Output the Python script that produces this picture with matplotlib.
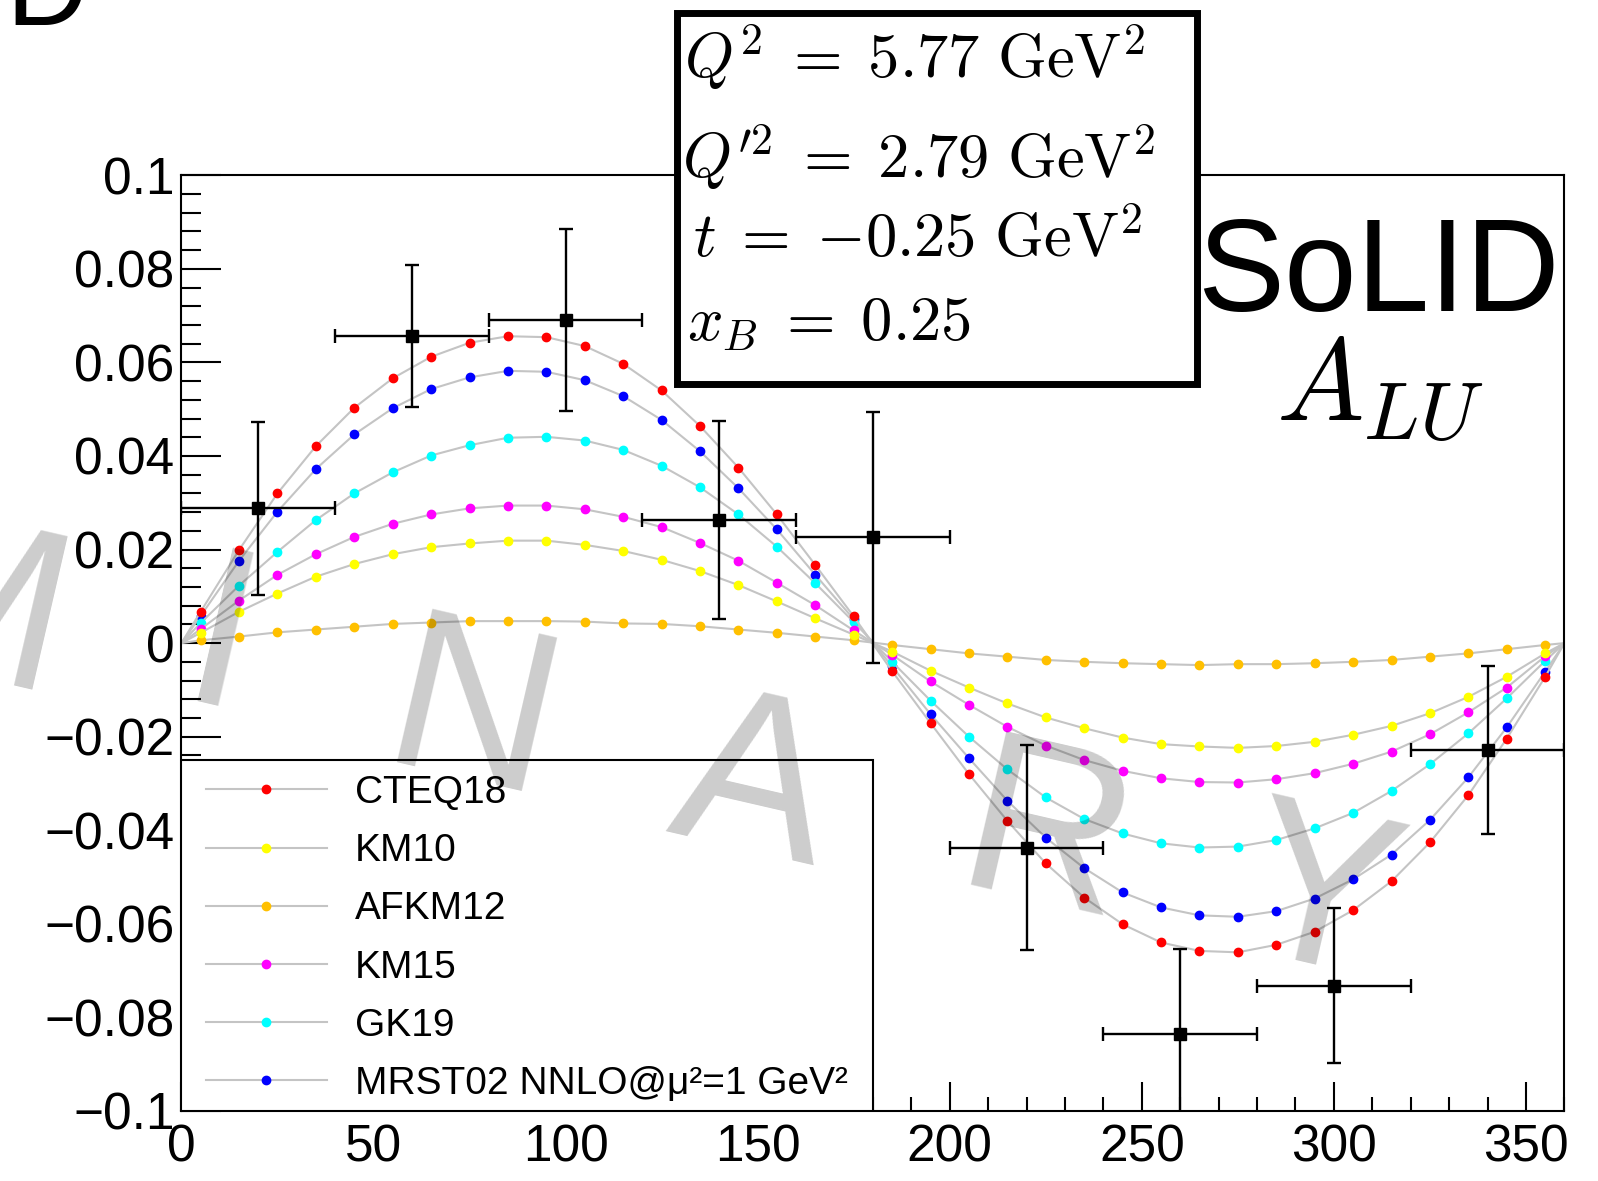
import matplotlib
matplotlib.use("Agg")
import matplotlib.pyplot as plt
from matplotlib.lines import Line2D
from matplotlib.patches import Rectangle
from matplotlib.ticker import MultipleLocator

plt.rcParams["font.family"] = ["Liberation Sans", "DejaVu Sans"]

# phi grid of the model curves (deg)
phi = [5, 15, 25, 35, 45, 55, 65, 75, 85, 95, 105, 115, 125, 135, 145, 155, 165, 175,
       185, 195, 205, 215, 225, 235, 245, 255, 265, 275, 285, 295, 305, 315, 325, 335, 345, 355]

cteq18 = [0.0067, 0.0199, 0.0320, 0.0421, 0.0503, 0.0566, 0.0612, 0.0642, 0.0656, 0.0654,
          0.0635, 0.0597, 0.0540, 0.0464, 0.0375, 0.0275, 0.0167, 0.0057, -0.0060, -0.0171,
          -0.0280, -0.0380, -0.0471, -0.0544, -0.0601, -0.0640, -0.0658, -0.0661, -0.0645,
          -0.0617, -0.0571, -0.0509, -0.0426, -0.0325, -0.0204, -0.0072]
km10 = [0.0022, 0.0067, 0.0106, 0.0142, 0.0169, 0.0190, 0.0205, 0.0213, 0.0219, 0.0219,
        0.0210, 0.0197, 0.0178, 0.0154, 0.0124, 0.0089, 0.0053, 0.0018, -0.0018, -0.0059,
        -0.0095, -0.0129, -0.0159, -0.0182, -0.0202, -0.0216, -0.0221, -0.0224, -0.0220,
        -0.0211, -0.0196, -0.0177, -0.0150, -0.0115, -0.0072, -0.0022]
afkm12 = [0.0006, 0.0014, 0.0023, 0.0029, 0.0035, 0.0041, 0.0044, 0.0047, 0.0047, 0.0047,
          0.0046, 0.0042, 0.0041, 0.0036, 0.0029, 0.0022, 0.0014, 0.0006, -0.0004, -0.0013,
          -0.0022, -0.0029, -0.0036, -0.0040, -0.0043, -0.0045, -0.0047, -0.0045, -0.0045,
          -0.0043, -0.0040, -0.0036, -0.0029, -0.0022, -0.0013, -0.0004]
km15 = [0.0030, 0.0091, 0.0146, 0.0190, 0.0227, 0.0255, 0.0275, 0.0288, 0.0294, 0.0294,
        0.0286, 0.0270, 0.0248, 0.0214, 0.0176, 0.0129, 0.0081, 0.0027, -0.0025, -0.0082,
        -0.0132, -0.0179, -0.0219, -0.0250, -0.0273, -0.0289, -0.0297, -0.0298, -0.0291,
        -0.0278, -0.0258, -0.0232, -0.0195, -0.0148, -0.0095, -0.0028]
gk19 = [0.0043, 0.0123, 0.0195, 0.0263, 0.0320, 0.0365, 0.0401, 0.0423, 0.0439, 0.0441,
        0.0433, 0.0413, 0.0379, 0.0333, 0.0275, 0.0206, 0.0128, 0.0045, -0.0040, -0.0123,
        -0.0200, -0.0270, -0.0330, -0.0376, -0.0407, -0.0428, -0.0437, -0.0435, -0.0421,
        -0.0396, -0.0363, -0.0316, -0.0259, -0.0193, -0.0118, -0.0038]
mrst02 = [0.0058, 0.0176, 0.0281, 0.0372, 0.0446, 0.0502, 0.0543, 0.0568, 0.0582, 0.0580,
          0.0562, 0.0528, 0.0477, 0.0410, 0.0331, 0.0243, 0.0146, 0.0051, -0.0050, -0.0152,
          -0.0246, -0.0337, -0.0416, -0.0481, -0.0533, -0.0565, -0.0582, -0.0585, -0.0573,
          -0.0546, -0.0505, -0.0452, -0.0378, -0.0287, -0.0180, -0.0061]

labels = ["CTEQ18", "KM10", "AFKM12", "KM15", "GK19", "MRST02 NNLO@μ²=1 GeV²"]
series = [cteq18, km10, afkm12, km15, gk19, mrst02]
colors = ["#ff0000", "#ffff00", "#ffc000", "#ff00ff", "#00ffff", "#0000ff"]

# projected SoLID pseudo-data
phi_data = [20, 60, 100, 140, 180, 220, 260, 300, 340]
phi_err = [20, 20, 20, 20, 20, 20, 20, 20, 20]
alu_data = [0.0288, 0.0657, 0.0691, 0.0263, 0.0226, -0.0437, -0.0836, -0.0732, -0.0229]
alu_err = [0.0185, 0.0152, 0.0195, 0.0211, 0.0268, 0.0220, 0.0182, 0.0165, 0.0180]

x_ticks = [0, 50, 100, 150, 200, 250, 300, 350]
y_ticks = [-0.1, -0.08, -0.06, -0.04, -0.02, 0, 0.02, 0.04, 0.06, 0.08, 0.1]

kin_lines = [r"$Q^2\;=\;5.77\ \mathrm{GeV}^2$",
             r"$Q^{\prime 2}\;=\;2.79\ \mathrm{GeV}^2$",
             r"$t\;=\;{-}0.25\ \mathrm{GeV}^2$",
             r"$x_B\;=\;0.25$"]

W, H = 1598, 1181
fig = plt.figure(figsize=(W / 100, H / 100), dpi=100)


def fx(x):
    return x / W


def fy(y):
    return 1 - y / H


ax = fig.add_axes([fx(181.4), fy(1110.9), (1564.4 - 181.4) / W, (1110.9 - 175.3) / H])
line_gray = "#c4c4c4"

# curves meet zero at both ends of the phi range
for vals, c in reversed(list(zip(series, colors))):
    ax.plot([0] + phi + [360], [0] + vals + [0], color=line_gray, lw=1.5, zorder=2)
    ax.plot(phi, vals, "o", ms=6, mfc=c, mec=c, zorder=2)

ax.errorbar(phi_data, alu_data, xerr=phi_err, yerr=alu_err, fmt="s", color="k",
            ms=9, elinewidth=1.7, capsize=5, capthick=1.7, zorder=4)

ax.set_xlim(0, 360)
ax.set_ylim(-0.1, 0.1)
ax.set_xticks(x_ticks)
ax.set_xticklabels([f"{v:g}" for v in x_ticks])
ax.set_yticks(y_ticks)
ax.set_yticklabels([f"{v:g}".replace("-", "\u2212") for v in y_ticks])
ax.xaxis.set_minor_locator(MultipleLocator(10))
ax.yaxis.set_minor_locator(MultipleLocator(0.004))
ax.tick_params(which="both", direction="in", top=False, right=False, width=1.5,
               labelsize=37)
ax.tick_params(axis="x", which="major", length=21, pad=9)
ax.tick_params(axis="x", which="minor", length=10)
ax.tick_params(axis="y", which="major", length=29, pad=5)
ax.tick_params(axis="y", which="minor", length=14.5)
for sp in ax.spines.values():
    sp.set_linewidth(1.5)

# legend pad
ax.add_patch(Rectangle((0, -0.1), 180, 0.075, facecolor="white", edgecolor="k",
                       lw=1.5, zorder=3))
handles = [Line2D([], [], color=line_gray, lw=1.5, marker="o", ms=6, mfc=c, mec=c)
           for c in colors]
ax.legend(handles, labels, loc="upper left", bbox_to_anchor=(0.0178, 0.359),
          frameon=False, fontsize=28, handlelength=3.1, handletextpad=0.73,
          labelspacing=0.57, borderpad=0, borderaxespad=0, numpoints=1)

# kinematics box
fig.add_artist(Rectangle((fx(676.5), fy(383.5)), (1196.5 - 676.5) / W, (383.5 - 12.5) / H,
                         transform=fig.transFigure, facecolor="white", edgecolor="k",
                         lw=5, zorder=5))
for txt, x, y in zip(kin_lines, [684, 682, 693, 687], [78, 178, 257, 340]):
    fig.text(fx(x), fy(y), txt, fontsize=45, math_fontfamily="cm",
             ha="left", va="baseline", zorder=6)

fig.text(fx(1197), fy(311), "SoLID", fontsize=94, ha="left", va="baseline", zorder=6)
fig.text(fx(1276), fy(420), r"$A_{LU}$", fontsize=84, math_fontfamily="cm",
         ha="left", va="baseline", zorder=6)
fig.text(fx(89), fy(25), "SoLID", fontsize=82, ha="right", va="baseline", zorder=6)

# spaced-out watermark, mostly off the left edge
for ch, x, y in [("M", -30, 618), ("I", 220, 650), ("N", 471, 723), ("A", 752, 790),
                 ("R", 1045, 844), ("Y", 1318, 905)]:
    fig.text(fx(x), fy(y), ch, fontsize=165, color="k", alpha=0.2, rotation=-13,
             rotation_mode="anchor", ha="center", va="center", zorder=10)

fig.savefig("out.png", dpi=100)
